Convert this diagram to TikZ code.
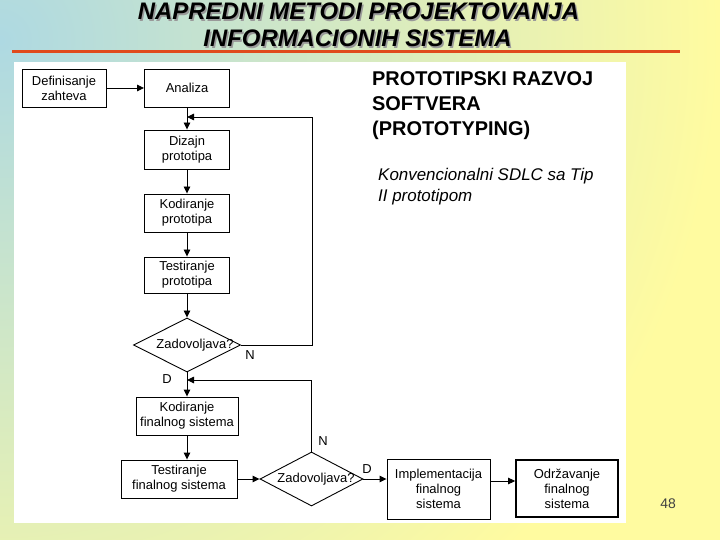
\documentclass[tikz,border=0pt]{standalone}
\usepackage{fontspec}
\setmainfont{Liberation Sans}
\newfontfamily\fc{Liberation Sans}
\usetikzlibrary{shapes.geometric,arrows.meta}
\definecolor{bgteal}{HTML}{AED9E2}
\definecolor{bgyellow}{HTML}{FFFBA0}
\definecolor{redline}{HTML}{E04A1C}
\definecolor{numgray}{HTML}{404040}
\begin{document}
\begin{tikzpicture}[x=1bp,y=-1bp,
  box/.style n args={2}{draw=black, line width=0.9bp, fill=white, align=center,
     font=\fc\fontsize{13}{15}\selectfont, inner sep=0pt,
     minimum width=#1bp, minimum height=#2bp},
  dec/.style={diamond, draw=black, line width=0.9bp, fill=white, inner sep=0pt,
     aspect=2, minimum width=#1bp, minimum height=54bp},
  dtext/.style={font=\fc\fontsize{13}{15}\selectfont, inner sep=0pt},
  lab/.style={font=\fc\fontsize{13}{15}\selectfont, inner sep=0pt},
  arr/.style={line width=0.9bp, -{Triangle[length=7bp,width=6.5bp]}},
  ttl/.style={font=\fontsize{24}{28}\selectfont\bfseries\itshape, inner sep=0pt, anchor=base},
  head/.style={font=\fontsize{20}{26}\selectfont\bfseries, inner sep=0pt, anchor=base west},
  sub/.style={font=\fontsize{17}{21}\selectfont\itshape, inner sep=0pt, anchor=base west}]
\useasboundingbox (0,0) rectangle (720,540);
% background
\begin{scope}
\clip (0,0) rectangle (720,540);
\fill[bgyellow] (0,0) rectangle (720,540);
\shade[inner color=bgteal, outer color=bgyellow] (0,40) circle (720);
\end{scope}
\fill[white] (14,62) rectangle (626,523);
\draw[redline, line width=3bp] (12,52) -- (680,52);
% title
\node[ttl, text=black!40] (t1s) at (360,21.5) {NAPREDNI METODI PROJEKTOVANJA};
\node[ttl] (t1) at (358.5,20) {NAPREDNI METODI PROJEKTOVANJA};
\node[ttl, text=black!40] (t2s) at (359,48.5) {INFORMACIONIH SISTEMA};
\node[ttl] (t2) at (357.5,47) {INFORMACIONIH SISTEMA};
% right texts
\node[head] (h1) at (372,86) {PROTOTIPSKI RAZVOJ};
\node[head] (h2) at (372,111) {SOFTVERA};
\node[head] (h3) at (372,136) {(PROTOTYPING)};
\node[sub] (s1) at (378,181) {Konvencionalni SDLC sa Tip};
\node[sub] (s2) at (378,202) {II prototipom};
% flowchart
\node[box={84}{38}] (def) at (64,88) {Definisanje\\zahteva};
\node[box={85}{38}] (ana) at (187,88) {Analiza};
\node[box={85}{39}] (diz) at (187,149.5) {Dizajn\\prototipa};
\node[box={85}{38}] (kodp) at (187,213) {Kodiranje\\prototipa};
\node[box={85}{36}] (testp) at (187,275) {Testiranje\\prototipa};
\node[dec=107] (z1) at (187,345) {};
\node[dtext] (z1t) at (195,345) {Zadovoljava?};
\node[box={102}{38}] (kodf) at (187,416) {Kodiranje\\finalnog sistema};
\node[box={116}{38}] (testf) at (179,479) {Testiranje\\finalnog sistema};
\node[dec=103] (z2) at (311.5,479) {};
\node[dtext] (z2t) at (316,479) {Zadovoljava?};
\node[box={103}{60}] (impl) at (438.5,489) {Implementacija\\finalnog\\sistema};
\node[box={102}{57}, line width=1.7bp] (odr) at (567,488.5) {Održavanje\\finalnog\\sistema};
% labels
\node[lab] (n1) at (250,355) {N};
\node[lab] (d1) at (167,379) {D};
\node[lab] (n2) at (323,441) {N};
\node[lab] (d2) at (367,469) {D};
% connectors
\draw[arr] (def.east) -- (ana.west);
\draw[arr] (ana) -- (diz);
\draw[arr] (diz) -- (kodp);
\draw[arr] (kodp) -- (testp);
\draw[arr] (testp) -- (z1);
\draw[arr] (z1) -- (kodf);
\draw[arr] (kodf) -- (kodf |- testf.north);
\draw[arr] (testf) -- (z2);
\draw[arr] (z2.east) -- (z2.east -| impl.west);
\draw[arr] ([yshift=-2bp]impl.east |- z2.east) -- ([yshift=-2bp]odr.west |- z2.east);
\coordinate (fb1) at (312,117);
\coordinate (fb2) at (311.5,380);
\draw[arr] (z1.east) -| (fb1) -- (fb1 -| ana);
\draw[arr] (z2.north) -- (fb2) -- (fb2 -| z1);
% page number
\node[font=\fontsize{14}{16}\selectfont, text=numgray, inner sep=0pt] (pg) at (668,504) {48};
\end{tikzpicture}
\end{document}
